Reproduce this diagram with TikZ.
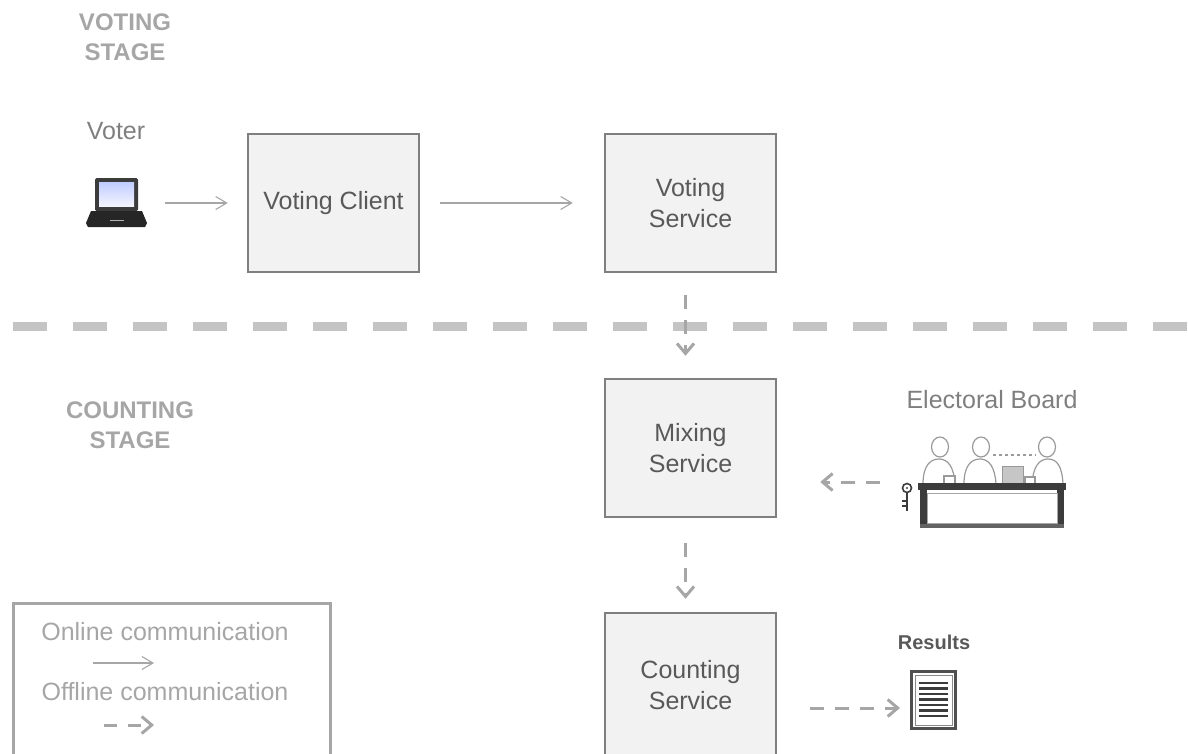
\documentclass[tikz,border=0pt]{standalone}
\usepackage{fontspec}
\setmainfont{Liberation Sans}
\usetikzlibrary{arrows.meta}
\definecolor{boxfill}{HTML}{F2F2F2}
\definecolor{boxline}{HTML}{7F7F7F}
\definecolor{boxtext}{HTML}{595959}
\definecolor{labeltext}{HTML}{7F7F7F}
\definecolor{stagetext}{HTML}{A6A6A6}
\definecolor{arrowgray}{HTML}{A6A6A6}
\definecolor{sepgray}{HTML}{C4C4C4}
\definecolor{icondark}{HTML}{3C3C3C}
\definecolor{peoplegray}{HTML}{9A9A9A}

\begin{document}
\begin{tikzpicture}[x=1pt,y=-1pt,
  service/.style={draw=boxline, fill=boxfill, line width=2.5pt, minimum width=171pt,
    minimum height=138pt, text=boxtext, align=center, font=\fontsize{25}{31}\selectfont},
  stage/.style={text=stagetext, align=center, font=\bfseries\fontsize{24}{30}\selectfont},
  actor/.style={text=labeltext, font=\fontsize{25}{30}\selectfont},
  icon/.style={inner sep=0pt},
  online/.style={draw=arrowgray, line width=1.1pt, -{Straight Barb[length=11pt,width=13pt]}},
  offline/.style={draw=arrowgray, line width=3pt, dash pattern=on 14pt off 11pt,
    -{Straight Barb[length=10pt,width=17pt]}},
  legendtext/.style={text=stagetext, font=\fontsize{25}{30}\selectfont}]

\useasboundingbox (0,0) rectangle (1188,753);
\clip (0,0) rectangle (1188,753);

% stage titles
\node[stage] (votingstage) at (125,37) {VOTING\\STAGE};
\node[stage] (countingstage) at (130,425) {COUNTING\\STAGE};

% separator between the two stages
\draw[sepgray, line width=9pt, dash pattern=on 34pt off 26pt] (13,326) -- (1188,326);

% voter and laptop
\node[actor] (voter) at (116,131) {Voter};
\node[icon, minimum width=62pt, minimum height=50pt] (laptop) at (116,203) {};
\fill[icondark, rounded corners=1.5pt] (95,178) rectangle (138,211);
\shade[top color=cyan!20!blue!25, bottom color=blue!4!white] (99,182) rectangle (134,206);
\fill[black!85] (91,211) -- (142,211) -- (147,223) -- (145,227) -- (88,227) -- (86,223) -- cycle;
\draw[gray!60, line width=1pt] (110,220) -- (124,220);

% services
\node[service] (vclient) at (333.5,203) {Voting Client};
\node[service] (vservice) at (690.5,203) {Voting\\Service};
\node[service] (mixing) at (690.5,448) {Mixing\\Service};
\node[service, minimum height=144pt] (counting) at (690.5,685) {Counting\\Service};

% electoral board
\node[actor] (boardlabel) at (992,400) {Electoral Board};
\node[icon, minimum width=165pt, minimum height=92pt] (board) at (983,482) {};
\begin{scope}[draw=peoplegray, fill=white, line width=1.2pt]
  \foreach \px in {939,980} {
    \filldraw (\px-16,484) .. controls (\px-16,466) and (\px-9,459) .. (\px,459)
      .. controls (\px+9,459) and (\px+15,467) .. (\px+16,484) -- cycle;
    \filldraw (\px+1,447) ellipse (8.5pt and 10pt);
  }
  \filldraw (1032,484) .. controls (1033,467) and (1039,459) .. (1048,459)
    .. controls (1057,459) and (1062,466) .. (1063,484) -- cycle;
  \filldraw (1047,447) ellipse (8.5pt and 10pt);
  \draw[dashed] (993,455) -- (1036,455);
  \filldraw (944,476) rectangle (955,484);
  \filldraw (1025,477) rectangle (1035,484);
\end{scope}
\filldraw[fill=gray!45, draw=gray!80, line width=1pt] (1002,466) rectangle (1023,484);
% table
\fill[icondark] (918,483) rectangle (1066,490);
\fill[icondark] (920,490) rectangle (927,528);
\fill[icondark] (1057,490) rectangle (1064,528);
\draw[gray!70, line width=1pt] (927,493) rectangle (1057,523);
\fill[icondark!80] (920,524) rectangle (1064,528);
% key
\draw[icondark, line width=1.6pt] (907,488) circle (4.5pt);
\fill[icondark] (907,488) circle (1.2pt);
\draw[icondark, line width=2.6pt] (907,493) -- (907,511);
\draw[icondark, line width=2pt] (907,501) -- (902,501) (907,506) -- (902,506);

% results document
\node[text=boxtext, font=\bfseries\fontsize{20}{24}\selectfont] (resultslabel) at (934,642) {Results};
\node[icon, draw=icondark!90, line width=3.5pt, fill=white, minimum width=44pt, minimum height=57pt] (results) at (933.5,700) {};
\draw[icondark!60, line width=0.8pt] (915,675) rectangle (952,725);
\foreach \ly in {683,688.5,...,718} \draw[icondark, line width=2.6pt] (919,\ly) -- (948,\ly);

% connectors
\draw[online, shorten <=18pt, shorten >=19pt] (laptop.east) -- (vclient.west);
\draw[online, shorten <=20pt, shorten >=31pt] (vclient.east) -- (vservice.west);
\draw[offline, shorten <=22pt, shorten >=22pt] ([xshift=-5pt]vservice.south) -- ([xshift=-5pt]mixing.north);
\draw[offline, shorten <=25pt, shorten >=13pt] ([xshift=-5pt]mixing.south) -- ([xshift=-5pt]counting.north);
\draw[offline, shorten <=20pt, shorten >=43pt] (board.west) -- (mixing.east |- board.west);
\coordinate (resultsin) at (904,708);
\draw[offline, shorten <=33pt, shorten >=4pt] (counting.east |- resultsin) -- (resultsin);

% legend
\node[draw=stagetext, line width=2.5pt, minimum width=317pt, minimum height=170pt, anchor=north west] (legend) at (12,602) {};
\node[legendtext] (onlinetext) at (165,632) {Online communication};
\node[legendtext] (offlinetext) at (165,692) {Offline communication};
\coordinate (onlinefrom) at (93,663);
\coordinate (onlineto) at (154,663);
\coordinate (offlinefrom) at (104,725);
\coordinate (offlineto) at (154,725);
\draw[online] (onlinefrom) -- (onlineto);
\draw[offline, dash pattern=on 13pt off 11pt] (offlinefrom) -- (offlineto);
\end{tikzpicture}
\end{document}
